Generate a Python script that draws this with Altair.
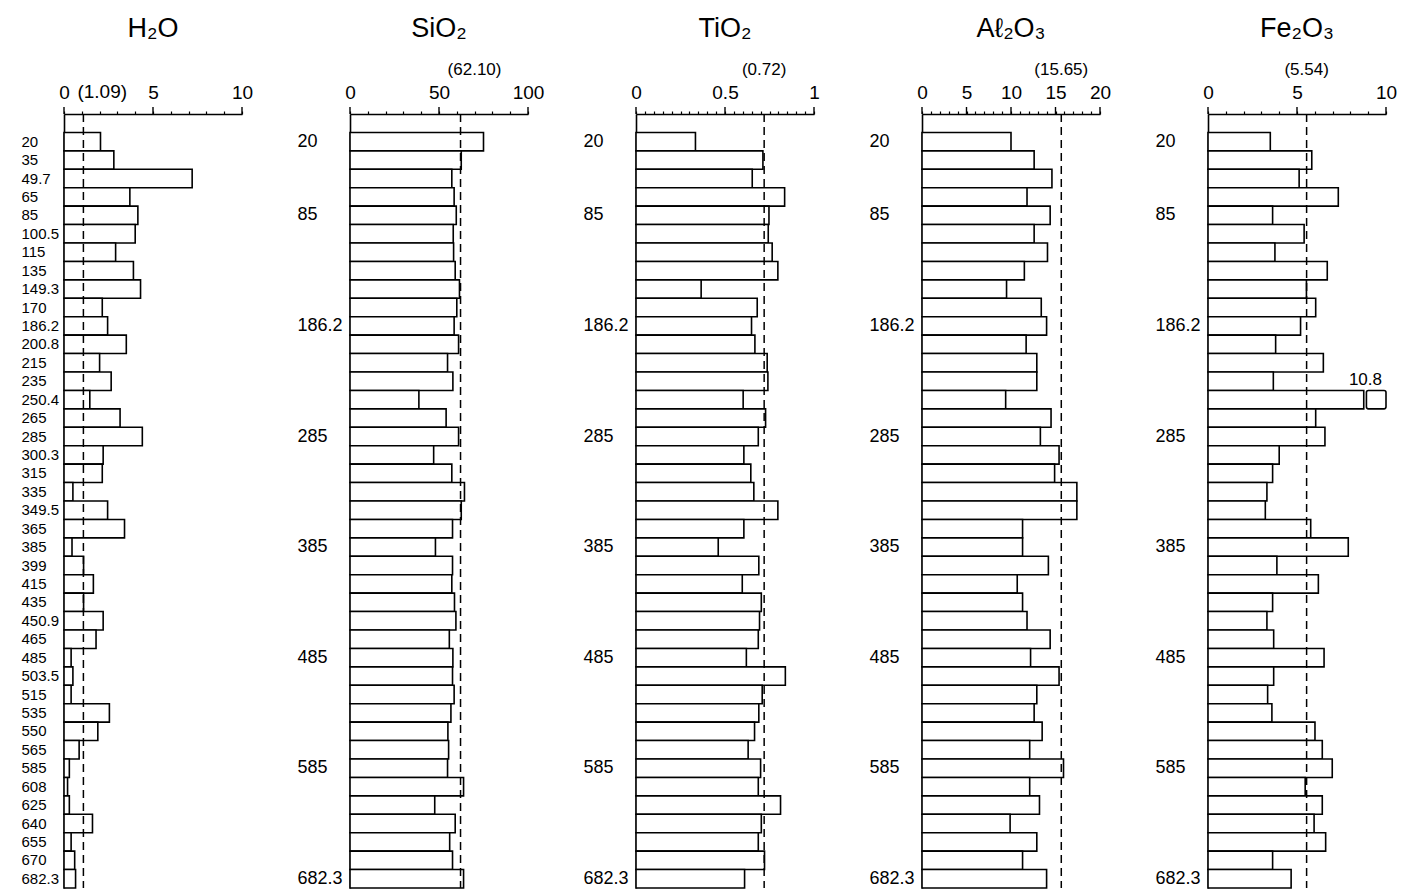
import altair as alt
import pandas as pd

# ---------------- data ----------------
depths = ["20", "35", "49.7", "65", "85", "100.5", "115", "135", "149.3", "170",
          "186.2", "200.8", "215", "235", "250.4", "265", "285", "300.3", "315", "335",
          "349.5", "365", "385", "399", "415", "435", "450.9", "465", "485", "503.5",
          "515", "535", "550", "565", "585", "608", "625", "640", "655", "670", "682.3"]

h2o = [2.05, 2.8, 7.2, 3.7, 4.15, 4.0, 2.9, 3.9, 4.3, 2.15,
       2.45, 3.5, 2.0, 2.65, 1.45, 3.15, 4.4, 2.2, 2.15, 0.5,
       2.45, 3.4, 0.45, 1.1, 1.65, 1.1, 2.2, 1.8, 0.4, 0.5,
       0.4, 2.55, 1.9, 0.85, 0.3, 0.2, 0.3, 1.6, 0.4, 0.6, 0.65]

sio2 = [75.0, 62.5, 57.2, 58.5, 59.7, 58.0, 58.2, 59.1, 61.5, 60.0,
        58.5, 61.0, 54.8, 57.8, 38.7, 54.0, 61.0, 47.0, 57.2, 64.3,
        62.5, 57.6, 48.0, 57.6, 57.2, 58.7, 59.5, 55.8, 57.8, 57.6,
        58.5, 56.7, 55.0, 55.4, 54.8, 63.8, 47.6, 59.1, 56.0, 57.6, 63.8]

tio2 = [0.334, 0.713, 0.653, 0.835, 0.747, 0.743, 0.765, 0.797, 0.366, 0.681,
        0.649, 0.668, 0.737, 0.741, 0.602, 0.728, 0.687, 0.606, 0.645, 0.662,
        0.797, 0.606, 0.462, 0.69, 0.597, 0.704, 0.694, 0.687, 0.62, 0.839,
        0.709, 0.69, 0.666, 0.63, 0.70, 0.687, 0.812, 0.704, 0.687, 0.722, 0.61]

al2o3 = [10.0, 12.6, 14.6, 11.8, 14.4, 12.6, 14.1, 11.5, 9.5, 13.4,
         14.0, 11.7, 12.9, 12.9, 9.4, 14.5, 13.3, 15.4, 14.9, 17.4,
         17.4, 11.3, 11.3, 14.2, 10.7, 11.3, 11.8, 14.4, 12.2, 15.4,
         12.9, 12.6, 13.5, 12.1, 15.9, 12.1, 13.2, 9.9, 12.9, 11.3, 14.0]

fe2o3 = [3.5, 5.83, 5.12, 7.32, 3.63, 5.4, 3.76, 6.7, 5.53, 6.05,
         5.2, 3.8, 6.48, 3.67, 10.8, 6.05, 6.57, 4.0, 3.63, 3.31,
         3.22, 5.77, 7.88, 3.87, 6.2, 3.63, 3.31, 3.69, 6.52, 3.69,
         3.35, 3.59, 6.01, 6.42, 6.98, 5.46, 6.42, 5.96, 6.61, 3.63, 4.67]

titles = ["H₂O", "SiO₂", "TiO₂", "Aℓ₂O₃", "Fe₂O₃"]
series = [h2o, sio2, tio2, al2o3, fe2o3]
means = [1.09, 62.10, 0.72, 15.65, 5.54]
mean_labels = ["(1.09)", "(62.10)", "(0.72)", "(15.65)", "(5.54)"]
axis_max = [10, 100, 1, 20, 10]
major_ticks = [[0, 5, 10], [0, 50, 100], [0, 0.5, 1], [0, 5, 10, 15, 20], [0, 5, 10]]
major_labels = [["0", "5", "10"], ["0", "50", "100"], ["0", "0.5", "1"],
                ["0", "5", "10", "15", "20"], ["0", "5", "10"]]
minor_step = [1, 10, 0.05, 1, 1]
sparse_depths = ["20", "85", "186.2", "285", "385", "485", "585", "682.3"]

# ---------------- style ----------------
FONT = "Liberation Sans Narrow, Liberation Sans, Arial, sans-serif"
W, H = 178, 774
SPACING = 108
BREAK_AT = 8.75     # where an off-scale bar is cut (axis units)
BREAK_GAP = 0.15
LW = 1.6


def panel(i):
    mx = axis_max[i]
    vals = series[i]
    df = pd.DataFrame({"depth": depths, "value": vals})
    df["x"] = [min(v, BREAK_AT) if v > mx else v for v in vals]

    yscale = alt.Scale(domain=[" "] + depths, paddingInner=0, paddingOuter=0)
    xscale = alt.Scale(domain=[0, mx], nice=False, zero=True)

    n = int(round(mx / minor_step[i]))
    minor_vals = [round(k * minor_step[i], 4) for k in range(n + 1)]
    expr = "''"
    for m, lab in zip(reversed(major_ticks[i]), reversed(major_labels[i])):
        expr = f"abs(datum.value-({m}))<1e-6 ? '{lab}' : ({expr})"

    xaxis = alt.Axis(orient="top", values=minor_vals, labelExpr=expr, title=None,
                     grid=False, domain=True, domainColor="black", domainWidth=LW,
                     tickColor="black", tickSize=3, tickWidth=1.2,
                     labelFont=FONT, labelFontSize=19, labelColor="black",
                     labelPadding=9, labelOverlap=False, labelFlush=False)

    if i == 0:
        yaxis = alt.Axis(values=depths, title=None, ticks=False, domain=True,
                         domainColor="black", domainWidth=LW,
                         labelAlign="left", labelPadding=43, labelFont=FONT,
                         labelFontSize=15, labelColor="black", labelOverlap=False)
    else:
        yaxis = alt.Axis(values=sparse_depths, title=None, ticks=False, domain=True,
                         domainColor="black", domainWidth=LW,
                         labelAlign="left", labelPadding=53, labelFont=FONT,
                         labelFontSize=18, labelColor="black", labelOverlap=False)

    X = lambda: alt.X("x:Q", scale=xscale, axis=xaxis)

    bars = alt.Chart(df).mark_bar(fill="white", stroke="black", strokeWidth=LW).encode(
        x=X(),
        y=alt.Y("depth:N", scale=yscale, axis=yaxis),
    )

    majors = alt.Chart(pd.DataFrame({"x": major_ticks[i]})).mark_rule(
        color="black", strokeWidth=1.4).encode(
        x=X(), y=alt.value(0), y2=alt.value(-7),
    )

    mdf = pd.DataFrame({"x": [means[i]], "label": [mean_labels[i]]})
    rule = alt.Chart(mdf).mark_rule(color="black", strokeWidth=1.5,
                                    strokeDash=[8, 5]).encode(
        x=X(), y=alt.value(0), y2=alt.value(H),
    )
    if i == 0:
        mtext = alt.Chart(mdf).mark_text(align="left", baseline="bottom", dx=-6,
                                         font=FONT, fontSize=19, color="black").encode(
            x=X(), y=alt.value(-12), text="label:N")
    else:
        mtext = alt.Chart(mdf).mark_text(align="center", baseline="bottom",
                                         dx=(14 if i == 1 else 0),
                                         font=FONT, fontSize=17, color="black").encode(
            x=X(), y=alt.value(-35), text="label:N")

    title = alt.Chart(pd.DataFrame({"t": [titles[i]]})).mark_text(
        align="center", baseline="middle", font=FONT, fontSize=27, color="black").encode(
        x=alt.value(W / 2), y=alt.value(-85), text="t:N")

    layers = [bars, majors, rule, mtext, title]

    over = df[df["value"] > mx].copy()
    if len(over):
        over["x"] = BREAK_AT + BREAK_GAP
        over["x2"] = mx
        over["vlabel"] = [f"{v:g}" for v in over["value"]]
        box = alt.Chart(over).mark_bar(fill="white", stroke="black", strokeWidth=LW,
                                       cornerRadius=2).encode(
            x=X(), x2="x2:Q",
            y=alt.Y("depth:N", scale=yscale, axis=yaxis),
        )
        otext = alt.Chart(over).mark_text(align="right", baseline="bottom", dy=-1,
                                          font=FONT, fontSize=17, color="black").encode(
            x=alt.value(W - 4),
            y=alt.Y("depth:N", scale=yscale, axis=yaxis, bandPosition=0),
            text="vlabel:N",
        )
        layers += [box, otext]

    return alt.layer(*layers).properties(width=W, height=H)


chart = alt.hconcat(*[panel(i) for i in range(5)], spacing=SPACING, bounds="flush").properties(
    padding={"left": 13, "top": 7, "right": 0, "bottom": 0}
).configure(font=FONT, background="white").configure_view(stroke=None)

chart.save("out.html", embed_options={"renderer": "svg", "actions": False})
